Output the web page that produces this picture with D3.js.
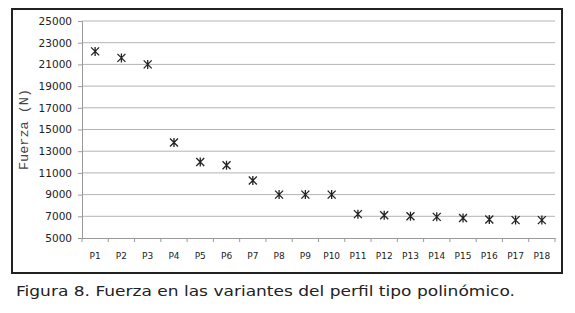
<!DOCTYPE html>
<html>
<head>
<meta charset="utf-8">
<script src="https://cdn.jsdelivr.net/npm/d3@7"></script>
<style>
  body { margin: 0; background: #fff; }
  .ylab { font-family: 'DejaVu Sans', sans-serif; font-size: 10.5px; fill: #222; }
  .xlab { font-family: 'DejaVu Sans', sans-serif; font-size: 9px; fill: #222; }
  .ytitle { font-family: 'Liberation Mono', monospace; font-size: 13.5px; fill: #444; }
  .caption { font-family: 'DejaVu Sans', sans-serif; font-size: 13.5px; fill: #222; }
</style>
</head>
<body>
<div id="vis"></div>
<script>
'use strict';

//chart values
var categories = ['P1', 'P2', 'P3', 'P4', 'P5', 'P6', 'P7', 'P8', 'P9',
    'P10', 'P11', 'P12', 'P13', 'P14', 'P15', 'P16', 'P17', 'P18'];
var fuerza = [22200, 21600, 21000, 13800, 12000, 11700, 10300, 9000, 9000,
    9000, 7200, 7100, 7000, 6950, 6850, 6700, 6650, 6650];
var yTicks = [5000, 7000, 9000, 11000, 13000, 15000, 17000, 19000, 21000, 23000, 25000];
var yTitle = 'Fuerza (N)';
var caption = 'Figura 8. Fuerza en las variantes del perfil tipo polinómico.';

var width = 575, height = 313;
//plot area inside the bordered box
var plot = { left: 82, right: 555, top: 21, bottom: 238 };

var svg = d3.select('#vis').append('svg')
    .attr('width', width)
    .attr('height', height);

//outer frame
svg.append('rect')
    .attr('x', 12).attr('y', 9)
    .attr('width', 550).attr('height', 264)
    .attr('fill', 'none')
    .attr('stroke', '#222')
    .attr('stroke-width', 2);

var x = d3.scaleBand()
    .domain(categories)
    .range([plot.left, plot.right]);

var y = d3.scaleLinear()
    .domain([5000, 25000])
    .range([plot.bottom, plot.top]);

//gridlines
svg.append('g')
    .selectAll('line')
    .data(yTicks.slice(1))
    .join('line')
    .attr('x1', plot.left).attr('x2', plot.right)
    .attr('y1', function (d) { return y(d); })
    .attr('y2', function (d) { return y(d); })
    .attr('stroke', '#b4b4b4')
    .attr('stroke-width', 1);

//y axis
var yAxis = svg.append('g')
    .attr('transform', 'translate(' + plot.left + ',0)')
    .call(d3.axisLeft(y).tickValues(yTicks).tickFormat(d3.format('d')).tickSize(4).tickPadding(6));
yAxis.select('.domain').attr('stroke', '#999');
yAxis.selectAll('.tick line').attr('stroke', '#999');
yAxis.selectAll('text').attr('class', 'ylab').attr('fill', null);

//x axis, ticks sit on the band boundaries
var xAxis = svg.append('g')
    .attr('transform', 'translate(0,' + plot.bottom + ')')
    .call(d3.axisBottom(x).tickSize(0).tickPadding(15));
xAxis.select('.domain').attr('stroke', '#999');
xAxis.selectAll('text').attr('class', 'xlab').attr('fill', null);
xAxis.selectAll('.edge')
    .data(d3.range(categories.length + 1))
    .join('line')
    .attr('class', 'edge')
    .attr('x1', function (i) { return plot.left + i * x.step(); })
    .attr('x2', function (i) { return plot.left + i * x.step(); })
    .attr('y1', 0).attr('y2', 4)
    .attr('stroke', '#999');

//y title
svg.append('text')
    .attr('class', 'ytitle')
    .attr('transform', 'translate(28,' + ((plot.top + plot.bottom) / 2) + ') rotate(-90)')
    .attr('text-anchor', 'middle')
    .text(yTitle);

//star markers (x plus vertical stroke)
var s = 4;
svg.append('g')
    .selectAll('path')
    .data(fuerza)
    .join('path')
    .attr('transform', function (d, i) {
        return 'translate(' + (x(categories[i]) + x.bandwidth() / 2) + ',' + y(d) + ')';
    })
    .attr('d', 'M' + (-s) + ',' + (-s) + 'L' + s + ',' + s +
        'M' + (-s) + ',' + s + 'L' + s + ',' + (-s) +
        'M0,' + (-s - 0.5) + 'L0,' + (s + 0.5))
    .attr('fill', 'none')
    .attr('stroke', '#222')
    .attr('stroke-width', 1.3);

//caption
svg.append('text')
    .attr('class', 'caption')
    .attr('x', 16).attr('y', 296)
    .attr('textLength', 499)
    .attr('lengthAdjust', 'spacingAndGlyphs')
    .text(caption);
</script>
</body>
</html>
